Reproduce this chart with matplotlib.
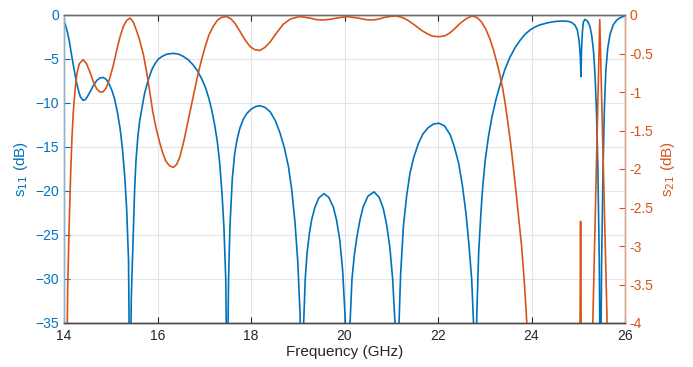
import numpy as np
import matplotlib
matplotlib.use('Agg')
import matplotlib.pyplot as plt

# s11 (dB); values below -35 are the nulls, clipped by the axis
freq_s11 = [14.00, 14.03, 14.07, 14.10, 14.13, 14.17, 14.21, 14.25, 14.30, 14.35,
            14.41, 14.46, 14.52, 14.58, 14.64, 14.70, 14.77, 14.84, 14.90, 14.96,
            15.02, 15.08, 15.14, 15.20, 15.25, 15.30, 15.34, 15.38, 15.41, 15.44,
            15.48, 15.51, 15.54, 15.58, 15.62, 15.66, 15.72, 15.80, 15.88, 15.95,
            16.02, 16.10, 16.20, 16.34, 16.45, 16.55, 16.66, 16.75, 16.85, 16.95,
            17.03, 17.10, 17.16, 17.22, 17.28, 17.33, 17.38, 17.42, 17.46, 17.49,
            17.52, 17.55, 17.60, 17.65, 17.70, 17.76, 17.83, 17.91, 18.00, 18.10,
            18.19, 18.30, 18.41, 18.52, 18.62, 18.71, 18.80, 18.87, 18.94, 19.00,
            19.05, 19.08, 19.12, 19.16, 19.20, 19.25, 19.30, 19.37, 19.45, 19.56,
            19.66, 19.76, 19.83, 19.90, 19.96, 20.01, 20.06, 20.11, 20.16, 20.21,
            20.26, 20.33, 20.40, 20.50, 20.63, 20.74, 20.83, 20.90, 20.97, 21.03,
            21.08, 21.12, 21.16, 21.20, 21.26, 21.33, 21.40, 21.48, 21.58, 21.68,
            21.79, 21.90, 22.02, 22.14, 22.26, 22.35, 22.44, 22.52, 22.60, 22.66,
            22.72, 22.76, 22.79, 22.83, 22.87, 22.92, 22.96, 23.01, 23.08, 23.15,
            23.24, 23.33, 23.43, 23.54, 23.65, 23.76, 23.86, 23.97, 24.08, 24.18,
            24.36, 24.50, 24.65, 24.78, 24.86, 24.93, 24.98, 25.02, 25.045, 25.058,
            25.07, 25.09, 25.11, 25.14, 25.20, 25.25, 25.29, 25.33, 25.36, 25.39,
            25.42, 25.45, 25.475, 25.50, 25.53, 25.56, 25.59, 25.63, 25.68, 25.75,
            25.82, 25.90, 26.00]
s11 = [-0.7, -1.1, -1.9, -2.6, -3.5, -4.8, -6.0, -7.2, -8.4, -9.3,
       -9.7, -9.6, -9.1, -8.5, -7.9, -7.45, -7.15, -7.1, -7.3, -7.8,
       -8.5, -9.5, -11.0, -12.9, -15.2, -18.4, -22.0, -27.8, -45.0, -32.0,
       -25.0, -20.0, -16.5, -13.8, -12.0, -10.8, -9.0, -7.4, -6.2, -5.5,
       -5.0, -4.7, -4.45, -4.36, -4.45, -4.7, -5.1, -5.6, -6.3, -7.3,
       -8.3, -9.5, -10.8, -12.4, -14.4, -16.8, -20.3, -24.0, -30.0, -45.0,
       -30.0, -24.0, -18.6, -15.8, -14.2, -12.9, -11.9, -11.2, -10.7, -10.4,
       -10.3, -10.5, -11.0, -12.0, -13.4, -15.0, -17.2, -19.8, -23.5, -28.0,
       -34.0, -45.0, -36.0, -30.0, -27.0, -24.8, -23.2, -21.8, -20.8, -20.3,
       -20.7, -21.8, -23.3, -25.6, -29.0, -34.0, -45.0, -36.0, -30.0, -27.3,
       -25.4, -23.3, -21.8, -20.6, -20.1, -20.7, -22.0, -23.8, -26.4, -30.0,
       -35.0, -45.0, -36.0, -29.5, -24.0, -20.5, -18.0, -16.2, -14.6, -13.5,
       -12.8, -12.4, -12.3, -12.6, -13.6, -15.0, -16.8, -19.3, -22.6, -26.0,
       -30.0, -35.0, -45.0, -34.0, -27.0, -22.3, -19.3, -16.5, -13.8, -11.7,
       -9.6, -7.9, -6.2, -4.8, -3.7, -2.85, -2.2, -1.7, -1.35, -1.12,
       -0.87, -0.74, -0.68, -0.72, -0.85, -1.15, -1.7, -3.0, -4.8, -7.0,
       -4.0, -1.8, -0.8, -0.5, -0.7, -1.3, -2.4, -4.3, -7.0, -11.0,
       -17.5, -28.0, -45.0, -28.0, -17.5, -10.5, -6.3, -3.8, -2.2, -1.1,
       -0.6, -0.3, -0.1]

# s21 (dB); values below -4 fall outside the axis
freq_s21 = [14.00, 14.06, 14.08, 14.11, 14.14, 14.17, 14.20, 14.24, 14.28, 14.33,
            14.41, 14.48, 14.56, 14.63, 14.70, 14.77, 14.83, 14.90, 14.98, 15.06,
            15.13, 15.20, 15.27, 15.34, 15.41, 15.48, 15.55, 15.62, 15.70, 15.77,
            15.84, 15.90, 15.97, 16.04, 16.11, 16.18, 16.26, 16.34, 16.41, 16.48,
            16.57, 16.66, 16.75, 16.84, 16.93, 17.02, 17.10, 17.19, 17.28, 17.37,
            17.48, 17.57, 17.66, 17.76, 17.87, 17.98, 18.08, 18.19, 18.30, 18.41,
            18.55, 18.69, 18.85, 19.05, 19.26, 19.40, 19.55, 19.70, 19.83, 20.05,
            20.29, 20.45, 20.61, 20.75, 20.86, 21.00, 21.12, 21.25, 21.36, 21.50,
            21.65, 21.76, 21.86, 21.95, 22.04, 22.15, 22.26, 22.37, 22.47, 22.60,
            22.70, 22.76, 22.85, 22.93, 23.02, 23.11, 23.19, 23.26, 23.32, 23.38,
            23.44, 23.50, 23.56, 23.62, 23.68, 23.74, 23.79, 23.85, 23.90, 24.00,
            25.03, 25.05, 25.07, 25.30, 25.46, 25.63, 26.00]
s21 = [-8.0, -4.6, -3.5, -2.75, -2.1, -1.6, -1.25, -0.95, -0.75, -0.63,
       -0.58, -0.63, -0.75, -0.87, -0.96, -1.0, -1.0, -0.95, -0.82, -0.64,
       -0.45, -0.28, -0.15, -0.07, -0.04, -0.09, -0.2, -0.33, -0.52, -0.75,
       -1.02, -1.26, -1.47, -1.64, -1.79, -1.9, -1.96, -1.98, -1.94, -1.84,
       -1.62, -1.36, -1.1, -0.84, -0.61, -0.41, -0.26, -0.15, -0.07, -0.03,
       -0.02, -0.05, -0.11, -0.21, -0.32, -0.41, -0.45, -0.46, -0.42, -0.35,
       -0.23, -0.12, -0.05, -0.02, -0.04, -0.06, -0.065, -0.055, -0.04, -0.02,
       -0.04, -0.06, -0.065, -0.05, -0.03, -0.018, -0.013, -0.035, -0.07, -0.13,
       -0.2, -0.24, -0.27, -0.28, -0.28, -0.27, -0.23, -0.17, -0.11, -0.05,
       -0.02, -0.015, -0.04, -0.09, -0.18, -0.31, -0.46, -0.62, -0.77, -0.94,
       -1.16, -1.42, -1.70, -2.02, -2.36, -2.72, -3.01, -3.5, -4.0, -4.6,
       -5.0, -2.68, -5.0, -4.3, -0.06, -4.3, -8.0]

blue = '#0072BD'
orange = '#D95319'
dark = '#262626'

plt.rcParams['font.family'] = ['Liberation Sans', 'DejaVu Sans']

fig = plt.figure(figsize=(6.93, 3.67), dpi=100)
ax = fig.add_axes([64 / 693, 1 - 323 / 367, (625 - 64) / 693, (323 - 15) / 367])
ax2 = ax.twinx()

ax.plot(freq_s11, s11, color=blue, linewidth=1.2)
ax2.plot(freq_s21, s21, color=orange, linewidth=1.2)

ax.set_xlim(14, 26)
ax.set_ylim(-35, 0)
ax2.set_ylim(-4, 0)
ax.set_xticks(np.arange(14, 27, 2))
ax.set_yticks(np.arange(-35, 1, 5))
ax2.set_yticks(np.arange(-4, 0.01, 0.5))
ax2.set_yticklabels(['-4', '-3.5', '-3', '-2.5', '-2', '-1.5', '-1', '-0.5', '0'])

ax.grid(True, color='#e4e4e4', linewidth=0.8)
ax.set_axisbelow(True)

ax.tick_params(axis='x', direction='in', top=True, length=4, colors=dark,
               labelsize=10, pad=4)
ax.tick_params(axis='y', direction='in', length=4, colors=blue, labelsize=10)
ax2.tick_params(axis='y', direction='in', length=4, colors=orange, labelsize=10)

for a in (ax, ax2):
    a.spines['top'].set_color('#6e6e6e')
    a.spines['bottom'].set_color('#4a4a4a')
    a.spines['left'].set_color('#8fb3cc')
    a.spines['right'].set_color('#d9a98c')
    for s in a.spines.values():
        s.set_linewidth(1.0)

ax.set_xlabel('Frequency (GHz)', fontsize=11, color=dark, labelpad=2)
ax.set_ylabel('s$_{11}$ (dB)', fontsize=11, color=blue, labelpad=4)
ax2.set_ylabel('s$_{21}$ (dB)', fontsize=11, color=orange, labelpad=4)

fig.savefig('out.png', dpi=100)
